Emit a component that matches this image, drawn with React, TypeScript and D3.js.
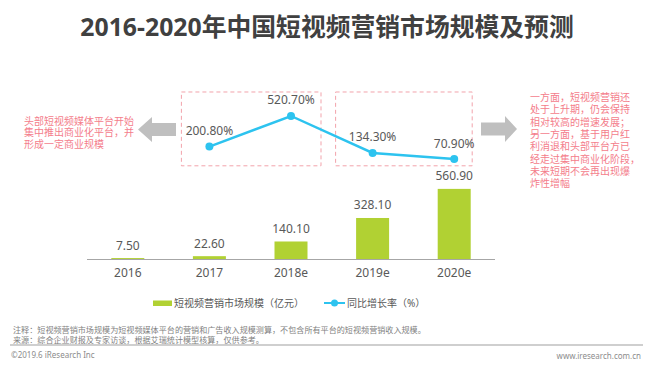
import React from "react";
import * as d3 from "d3";

const categories = ["2016", "2017", "2018e", "2019e", "2020e"];
const marketSize = [7.5, 22.6, 140.1, 328.1, 560.9];
const growthCategories = ["2017", "2018e", "2019e", "2020e"];
const growthRate = [200.8, 520.7, 134.3, 70.9];

const title = "2016-2020年中国短视频营销市场规模及预测";
const leftNote = ["头部短视频媒体平台开始", "集中推出商业化平台，并", "形成一定商业规模"];
const rightNote = [
  "一方面，短视频营销还",
  "处于上升期，仍会保持",
  "相对较高的增速发展；",
  "另一方面，基于用户红",
  "利消退和头部平台方已",
  "经走过集中商业化阶段，",
  "未来短期不会再出现爆",
  "炸性增幅",
];
const legendBar = "短视频营销市场规模（亿元）";
const legendLine = "同比增长率（%）";
const footNotes = [
  "注释：短视频营销市场规模为短视频媒体平台的营销和广告收入规模测算，不包含所有平台的短视频营销收入规模。",
  "来源：综合企业财报及专家访谈，根据艾瑞统计模型核算，仅供参考。",
];
const copyright = "©2019.6 iResearch Inc";
const website = "www.iresearch.com.cn";

const FONT = "'Noto Sans', 'Noto Sans CJK SC', sans-serif";
const BAR_COLOR = "#b1d133";
const LINE_COLOR = "#2dc3ef";
const TEXT = "#595959";
const PINK = "#f47d8b";
const BOX = "#f2a3ab";
const ARROW = "#bfbfbf";

export default function App() {
  const W = 652;
  const H = 376;
  const x = d3.scalePoint<string>().domain(categories).range([87, 495]).padding(0.5);
  const yBar = d3.scaleLinear().domain([0, 600]).range([259, 184]);
  const yLine = d3.scaleLinear().domain([0, 600]).range([165.8, 108.4]);
  const barW = 33;

  const linePts = growthCategories.map((c, i) => [x(c)!, yLine(growthRate[i])] as [number, number]);
  const linePath = d3.line()(linePts) || "";

  const box1 = { x0: x("2017")! - 28, x1: x("2018e")! + 30 };
  const box2 = { x0: x("2019e")! - 37, x1: x("2020e")! + 18 };
  const boxTop = yLine(520.7) - 24;
  const boxBottom = yLine(0);

  const fmt = d3.format(".2f");

  return (
    <svg
      width={W}
      height={H}
      style={{ position: "absolute", left: 0, top: 0, display: "block", background: "#fff" }}
      fontFamily={FONT}
    >
      <rect x={0} y={0} width={W} height={H} fill="#fff" />
      <text x={327} y={26} textAnchor="middle" dominantBaseline="central" fontSize={24.8} fontWeight="bold" fill="#404040">
        {title}
      </text>

      {/* dashed boxes */}
      {[box1, box2].map((b, i) => (
        <rect
          key={i}
          x={b.x0}
          y={boxTop}
          width={b.x1 - b.x0}
          height={boxBottom - boxTop}
          fill="none"
          stroke={BOX}
          strokeWidth={1}
          strokeDasharray="4,3"
        />
      ))}

      {/* arrows */}
      <polygon points="138,129.5 152,117 152,123 176,123 176,136 152,136 152,142" fill={ARROW} />
      <polygon points="517,129 505,116 505,122.5 481,122.5 481,135.5 505,135.5 505,142" fill={ARROW} />

      {/* side notes */}
      <text x={24} y={121} dominantBaseline="central" fontSize={10} fill={PINK}>
        {leftNote.map((t, i) => (
          <tspan key={i} x={24} dy={i === 0 ? 0 : 11.3}>
            {t}
          </tspan>
        ))}
      </text>
      <text x={530} y={97} dominantBaseline="central" fontSize={10} fill={PINK}>
        {rightNote.map((t, i) => (
          <tspan key={i} x={530} dy={i === 0 ? 0 : 12.3}>
            {t}
          </tspan>
        ))}
      </text>

      {/* bars */}
      {categories.map((c, i) => (
        <g key={c}>
          <rect
            x={x(c)! - barW / 2}
            y={yBar(marketSize[i])}
            width={barW}
            height={yBar(0) - yBar(marketSize[i])}
            fill={BAR_COLOR}
          />
          <text
            x={x(c)!}
            y={yBar(marketSize[i]) - 13}
            textAnchor="middle"
            dominantBaseline="central"
            fontSize={12}
            fill={TEXT}
          >
            {fmt(marketSize[i])}
          </text>
          <text x={x(c)!} y={272} textAnchor="middle" dominantBaseline="central" fontSize={12} fill={TEXT}>
            {c}
          </text>
        </g>
      ))}
      <line x1={87} x2={495} y1={yBar(0) + 0.5} y2={yBar(0) + 0.5} stroke="#a6a6a6" strokeWidth={1.2} />

      {/* line */}
      <path d={linePath} fill="none" stroke={LINE_COLOR} strokeWidth={2.5} />
      {linePts.map((p, i) => (
        <g key={i}>
          <circle cx={p[0]} cy={p[1]} r={4} fill={LINE_COLOR} />
          <text
            x={p[0]}
            y={p[1] - 16}
            textAnchor="middle"
            dominantBaseline="central"
            fontSize={12}
            fill={TEXT}
          >
            {fmt(growthRate[i]) + "%"}
          </text>
        </g>
      ))}

      {/* legend */}
      <rect x={153} y={300.5} width={19} height={5.5} fill={BAR_COLOR} />
      <text x={174} y={303} dominantBaseline="central" fontSize={10} fill={TEXT}>
        {legendBar}
      </text>
      <line x1={324} x2={345} y1={303} y2={303} stroke={LINE_COLOR} strokeWidth={2} />
      <circle cx={334.5} cy={303} r={3.5} fill={LINE_COLOR} />
      <text x={347} y={303} dominantBaseline="central" fontSize={10} fill={TEXT}>
        {legendLine}
      </text>

      {/* footer */}
      <text x={13} y={328.5} dominantBaseline="central" fontSize={8.1} fill="#7f7f7f">
        {footNotes.map((t, i) => (
          <tspan key={i} x={13} dy={i === 0 ? 0 : 10}>
            {t}
          </tspan>
        ))}
      </text>
      <line x1={10} x2={643} y1={345} y2={345} stroke="#bfbfbf" strokeWidth={1.5} />
      <text x={11} y={354.5} dominantBaseline="central" fontSize={8} fill="#8c8c8c">
        {copyright}
      </text>
      <text x={641} y={355} textAnchor="end" dominantBaseline="central" fontSize={8} fill="#8c8c8c">
        {website}
      </text>
    </svg>
  );
}
